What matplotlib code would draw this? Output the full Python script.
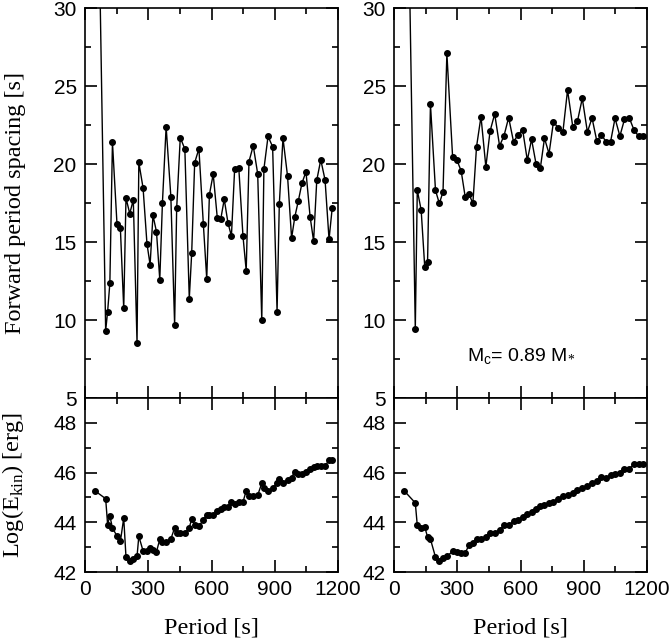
import numpy as np
import matplotlib
matplotlib.use('Agg')
import matplotlib.pyplot as plt
from matplotlib.ticker import MultipleLocator, FixedLocator

plt.rcParams['font.family'] = 'Liberation Sans'
plt.rcParams['mathtext.fontset'] = 'custom'
plt.rcParams['mathtext.rm'] = 'Liberation Serif'
plt.rcParams['mathtext.sf'] = 'Liberation Sans'

# left model
period_l = [48, 98, 107.3, 117.9, 130.2, 151.6, 167.8, 183.7, 194.4, 212.2,
            229.1, 246.8, 255.3, 275.4, 293.9, 308.8, 322.3, 339.0, 354.7, 367.3,
            384.8, 407.2, 425.1, 434.8, 451.9, 473.6, 494.6, 506.0, 520.2, 540.3,
            561.3, 577.4, 590.1, 608.1, 627.5, 644.0, 660.5, 678.2, 694.5, 709.8,
            729.5, 749.3, 764.6, 777.8, 798.0, 819.1, 838.5, 848.5, 868.2, 889.9,
            911.0, 921.6, 939.0, 960.7, 979.9, 995.1, 1011.7, 1029.4, 1048.1, 1067.6,
            1084.3, 1099.3, 1118.3, 1138.6, 1157.5, 1172.7]
dp_l = [50, 9.31, 10.54, 12.36, 21.39, 16.18, 15.87, 10.75, 17.83, 16.82,
        17.70, 8.54, 20.10, 18.47, 14.89, 13.54, 16.71, 15.66, 12.59, 17.53,
        22.39, 17.91, 9.70, 17.16, 21.69, 20.96, 11.37, 14.27, 20.08, 20.98,
        16.15, 12.64, 18.04, 19.35, 16.54, 16.48, 17.74, 16.22, 15.38, 19.69,
        19.73, 15.38, 13.17, 20.16, 21.17, 19.37, 9.98, 19.67, 21.77, 21.11,
        10.54, 17.42, 21.66, 19.22, 15.25, 16.60, 17.63, 18.79, 19.50, 16.63,
        15.06, 18.96, 20.27, 18.98, 15.17, 17.20]
logE_l = [45.26, 44.95, 43.91, 44.26, 43.77, 43.45, 43.23, 44.17, 42.60, 42.44,
          42.54, 42.63, 43.44, 42.85, 42.86, 42.98, 42.87, 42.81, 43.32, 43.19,
          43.21, 43.33, 43.77, 43.56, 43.56, 43.56, 43.79, 44.12, 43.91, 43.85,
          44.08, 44.31, 44.28, 44.28, 44.44, 44.52, 44.62, 44.62, 44.82, 44.72,
          44.82, 44.82, 45.26, 45.06, 45.06, 45.09, 45.57, 45.36, 45.26, 45.36,
          45.60, 45.76, 45.60, 45.69, 45.80, 46.04, 45.93, 45.93, 46.03, 46.13,
          46.23, 46.26, 46.26, 46.26, 46.50, 46.52]

# right model (Mc = 0.89 M*)
period_r = [49, 101, 110.4, 128.8, 145.8, 159.2, 172.9, 196.8, 215.1, 232.5,
            250.8, 277.9, 298.3, 318.6, 338.1, 356.0, 374.1, 391.5, 412.6, 435.7,
            455.5, 477.6, 500.8, 522.0, 543.8, 566.8, 588.2, 610.1, 632.3, 652.5,
            674.1, 694.1, 713.8, 735.4, 756.1, 778.8, 801.1, 823.2, 847.9, 870.3,
            893.1, 917.3, 939.3, 962.3, 983.7, 1005.6, 1027.0, 1048.4, 1071.4, 1093.2,
            1116.0, 1139.0, 1161.1, 1182.9]
dp_r = [52, 9.42, 18.33, 17.05, 13.40, 13.73, 23.83, 18.31, 17.47, 18.22,
        27.09, 20.47, 20.26, 19.55, 17.86, 18.07, 17.47, 21.11, 23.04, 19.81,
        22.10, 23.21, 21.16, 21.82, 22.98, 21.43, 21.86, 22.20, 20.24, 21.58,
        19.98, 19.74, 21.65, 20.66, 22.69, 22.33, 22.05, 24.74, 22.39, 22.76,
        24.21, 22.05, 22.95, 21.45, 21.88, 21.43, 21.41, 22.93, 21.79, 22.86,
        22.95, 22.16, 21.77, 21.79]
logE_r = [45.26, 44.78, 43.88, 43.77, 43.81, 43.41, 43.32, 42.60, 42.44, 42.56,
          42.63, 42.83, 42.81, 42.78, 42.77, 43.09, 43.15, 43.32, 43.34, 43.42,
          43.56, 43.57, 43.69, 43.88, 43.88, 44.05, 44.11, 44.23, 44.34, 44.42,
          44.55, 44.64, 44.68, 44.79, 44.82, 44.93, 45.05, 45.09, 45.19, 45.29,
          45.37, 45.46, 45.60, 45.65, 45.83, 45.79, 45.89, 45.96, 45.99, 46.16,
          46.16, 46.34, 46.34, 46.34]

W, H = 670, 639
fig = plt.figure(figsize=(W / 100, H / 100), dpi=100)

def box(x0, y0, x1, y1):
    return [x0 / W, 1 - y1 / H, (x1 - x0) / W, (y1 - y0) / H]

ax_tl = fig.add_axes(box(85, 8, 338, 398))
ax_bl = fig.add_axes(box(85, 398, 338, 572))
ax_tr = fig.add_axes(box(394, 8, 647, 398))
ax_br = fig.add_axes(box(394, 398, 647, 572))

def style(ax, top):
    ax.set_xlim(0, 1200)
    ax.xaxis.set_major_locator(MultipleLocator(300))
    ax.xaxis.set_minor_locator(MultipleLocator(150))
    if top:
        ax.set_ylim(5, 30)
        ax.yaxis.set_major_locator(MultipleLocator(5))
        ax.yaxis.set_minor_locator(MultipleLocator(2.5))
        ax.tick_params(labelbottom=False)
    else:
        ax.set_ylim(42, 49)
        ax.yaxis.set_major_locator(FixedLocator([42, 44, 46, 48]))
        ax.yaxis.set_minor_locator(FixedLocator([43, 45, 47]))
    ax.tick_params(which='both', direction='in', top=True, right=True,
                   width=1.2, labelsize=15, pad=6)
    ax.tick_params(which='major', length=8.5)
    ax.tick_params(which='minor', length=4)
    for s in ax.spines.values():
        s.set_linewidth(1.2)

for ax in (ax_tl, ax_bl, ax_tr, ax_br):
    style(ax, ax in (ax_tl, ax_tr))

kw = dict(color='black', lw=1.0, marker='o', ms=4)
ax_tl.plot(period_l, dp_l, **kw)
ax_bl.plot(period_l, logE_l, **kw)
ax_tr.plot(period_r, dp_r, **kw)
ax_br.plot(period_r, logE_r, **kw)

ax_tl.set_ylabel('Forward period spacing [s]', family='Liberation Serif', fontsize=17.5)
ax_tl.yaxis.set_label_coords(-0.232, 0.5)
ax_bl.set_ylabel(r'Log(E$_{\rm kin}$) [erg]', family='Liberation Serif', fontsize=17.5)
ax_bl.yaxis.set_label_coords(-0.232, 0.5)
for ax in (ax_bl, ax_br):
    ax.set_xlabel('Period [s]', family='Liberation Serif', fontsize=17.5, labelpad=13)

ax_tr.text(346, 7.3, r'M$_{\mathsf{c}}$= 0.89 M$_{*}$', fontsize=14, va='baseline')

fig.savefig('out.png', dpi=100)
